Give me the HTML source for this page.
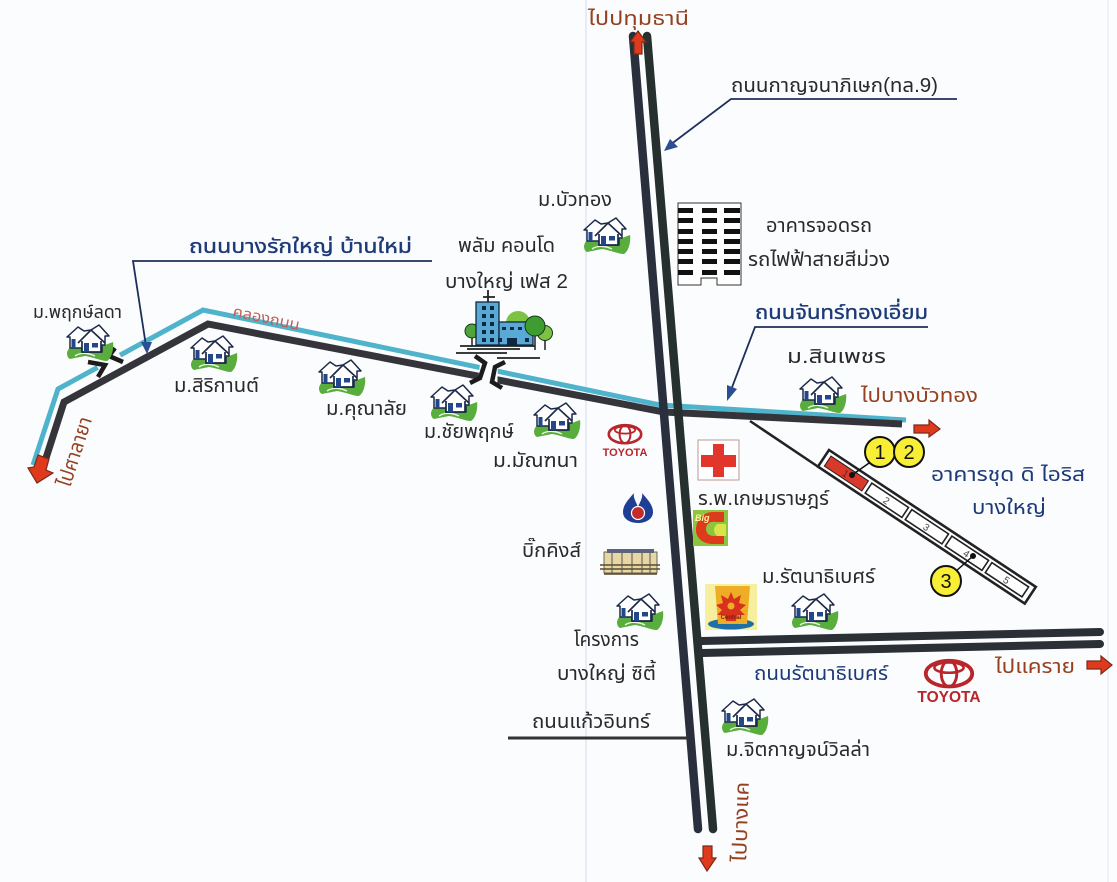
<!DOCTYPE html>
<html lang="th">
<head>
<meta charset="utf-8">
<title>แผนที่</title>
<style>
html,body{margin:0;padding:0;background:#fbfcfe;width:1117px;height:882px;overflow:hidden}
svg{display:block}
text{font-family:"Liberation Sans","Noto Sans Thai","Noto Sans CJK SC",sans-serif;font-size:20px;fill:#2a2a2a}
.blue{fill:#1d3a78}
.red{fill:#96401f}
.b{stroke:#1d3a78;stroke-width:.35px}
</style>
</head>
<body>
<svg width="1117" height="882" viewBox="0 0 1117 882" xmlns="http://www.w3.org/2000/svg">
<defs>
<symbol id="h" viewBox="0 0 46 38" overflow="visible">
  <path d="M0 28C1 23 4 21 8 21L38 20L46 17C47 23 45 33 40 36C34 36 26 32 18 31L3 34C1 33 0 31 0 28Z" fill="#58ad3c"/>
  <path d="M8 31C14 27 22 28 28 31" stroke="#eaf5e2" stroke-width="1.4" fill="none"/>
  <path d="M0 12L11 2L17 6L24 5L32 0L42 11L38 11L38 20L35 20L35 27L15 27L15 23L3 23L3 12Z" fill="#fff" stroke="#1c2a4a" stroke-width="1.5" stroke-linejoin="round"/>
  <path d="M11 18L24 5L38 18M15 16V27H34V16" fill="#fff" stroke="#1c2a4a" stroke-width="1.7"/>
  <rect x="4.5" y="14" width="4" height="9" fill="#23478c"/>
  <rect x="17" y="18" width="5" height="9" fill="#23478c"/>
  <rect x="25" y="18" width="6" height="4.5" fill="#23478c"/>
</symbol>
<symbol id="t" viewBox="0 0 60 50" overflow="visible">
  <ellipse cx="30" cy="17" rx="27" ry="15" fill="none" stroke="#b8252a" stroke-width="4.4"/>
  <ellipse cx="30" cy="17" rx="9" ry="15" fill="none" stroke="#b8252a" stroke-width="3.4"/>
  <ellipse cx="30" cy="10" rx="17" ry="6" fill="none" stroke="#b8252a" stroke-width="3"/>
</symbol>
</defs>

<rect width="1117" height="882" fill="#fbfcfe"/>
<rect x="585" y="0" width="2" height="882" fill="#e6ebf5"/>
<rect x="1107" y="0" width="2" height="882" fill="#eef1f7"/>

<!-- canal & local road -->
<polyline points="33,465 58,389 203,310 660,405 906,420" fill="none" stroke="#4fb3cb" stroke-width="5"/>
<polyline points="46,458 64,402 208,324 664,412 902,424" fill="none" stroke="#34343a" stroke-width="7"/>

<!-- gaps -->
<line x1="98" y1="368" x2="120" y2="355" stroke="#fbfcfe" stroke-width="7"/>
<polygon points="481,355 498,362 497,396 477,390" fill="#fbfcfe"/>

<!-- highway -->
<line x1="633" y1="36" x2="698" y2="829" stroke="#2a2f3e" stroke-width="8.5" stroke-linecap="round"/>
<line x1="647" y1="36" x2="713" y2="829" stroke="#26302f" stroke-width="8.5" stroke-linecap="round"/>

<!-- Rattanathibet -->
<line x1="702" y1="641" x2="1100" y2="632" stroke="#2a3036" stroke-width="8" stroke-linecap="round"/>
<line x1="702" y1="653" x2="1100" y2="644" stroke="#2a3036" stroke-width="8" stroke-linecap="round"/>

<!-- Kaew In road -->
<line x1="508" y1="738" x2="688" y2="738" stroke="#333" stroke-width="3"/>

<!-- Leaders -->
<g fill="none" stroke="#1f2f5c" stroke-width="1.8">
  <polyline points="432,261 133,261 146,346"/>
  <polyline points="957,99 731,99 670,145"/>
  <polyline points="928,327 755,327 731,390"/>
</g>
<g fill="#2a4f93">
  <polygon points="147,354 141,342 152,342"/>
  <polygon points="664,151 670,139 678,147"/>
  <polygon points="727,401 727,385 737,389"/>
</g>

<!-- Bridge at Palm Condo -->
<path d="M475 356L485 363L480 378L470 383" fill="none" stroke="#1c1c1c" stroke-width="4.5"/>
<path d="M505 362L495 367L492 382L502 388" fill="none" stroke="#1c1c1c" stroke-width="4.5"/>
<!-- Bridge at phruek lada -->
<path d="M115 348L109 356L123 362M88 362L105 365L98 377" fill="none" stroke="#1c1c1c" stroke-width="4.5"/>

<!-- Side soi and building -->
<line x1="750" y1="421" x2="820" y2="468" stroke="#222" stroke-width="2.5"/>
<g transform="translate(829 450) rotate(33.5)">
  <rect x="0" y="0" width="248" height="20" fill="#fff" stroke="#222" stroke-width="2.6"/>
  <rect x="5" y="4" width="45" height="12" fill="#d9392a" stroke="#222" stroke-width="1"/>
  <rect x="54" y="4" width="44" height="12" fill="#fff" stroke="#222" stroke-width="1.6"/>
  <rect x="102" y="4" width="44" height="12" fill="#fff" stroke="#222" stroke-width="1.6"/>
  <rect x="150" y="4" width="44" height="12" fill="#fff" stroke="#222" stroke-width="1.6"/>
  <rect x="198" y="4" width="44" height="12" fill="#fff" stroke="#222" stroke-width="1.6"/>
  <text x="24" y="14" style="font-size:10px;fill:#7a1c14">1</text>
  <text x="73" y="14" style="font-size:10px;fill:#444">2</text>
  <text x="121" y="14" style="font-size:10px;fill:#444">3</text>
  <text x="169" y="14" style="font-size:10px;fill:#444">4</text>
  <text x="217" y="14" style="font-size:10px;fill:#444">5</text>
</g>
<line x1="852" y1="475" x2="872" y2="461" stroke="#111" stroke-width="1.5"/>
<circle cx="852" cy="475" r="3" fill="#111"/>
<line x1="973" y1="556" x2="955" y2="572" stroke="#111" stroke-width="1.5"/>
<circle cx="973" cy="556" r="3" fill="#111"/>
<g fill="#f7ee35" stroke="#111" stroke-width="2">
  <circle cx="880" cy="452" r="15"/>
  <circle cx="909" cy="452" r="15"/>
  <circle cx="946" cy="581" r="15"/>
</g>
<text x="880" y="459" text-anchor="middle" style="font-size:20px;fill:#111">1</text>
<text x="909" y="459" text-anchor="middle" style="font-size:20px;fill:#111">2</text>
<text x="946" y="588" text-anchor="middle" style="font-size:20px;fill:#111">3</text>

<!-- Red arrows -->
<g fill="#e03a1c" stroke="#7a2a1a" stroke-width="1.2">
  <polygon points="638,31 646,42 642,42 642,54 634,54 634,42 630,42"/>
  <polygon points="914,425 929,425 929,420 940,429 929,437 929,433 914,433"/>
  <polygon points="1087,661 1101,661 1101,656 1112,665 1101,674 1101,669 1087,669"/>
  <polygon points="703,846 712,846 712,858 716,858 707,871 699,858 703,858"/>
  <polygon points="38,455 49,459 46,470 53,473 37,483 28,468 34,467"/>
</g>

<!-- Parking building -->
<path d="M678 203H741V285H717V278H701V285H678Z" fill="#fff" stroke="#333" stroke-width="1"/>
<g fill="#111">
  <rect x="678" y="208" width="15" height="5"/><rect x="702" y="208" width="15" height="5"/><rect x="724" y="208" width="16" height="5"/>
  <rect x="678" y="218" width="15" height="5"/><rect x="702" y="218" width="15" height="5"/><rect x="724" y="218" width="16" height="5"/>
  <rect x="678" y="229" width="15" height="5"/><rect x="702" y="229" width="15" height="5"/><rect x="724" y="229" width="16" height="5"/>
  <rect x="678" y="239" width="15" height="5"/><rect x="702" y="239" width="15" height="5"/><rect x="724" y="239" width="16" height="5"/>
  <rect x="678" y="249" width="15" height="5"/><rect x="702" y="249" width="15" height="5"/><rect x="724" y="249" width="16" height="5"/>
  <rect x="678" y="259" width="15" height="5"/><rect x="702" y="259" width="15" height="5"/><rect x="724" y="259" width="16" height="5"/>
  <rect x="678" y="270" width="15" height="5"/><rect x="702" y="270" width="15" height="5"/><rect x="724" y="270" width="16" height="5"/>
</g>

<!-- Condo icon -->
<g>
  <circle cx="518" cy="323" r="12" fill="#7cc243"/>
  <circle cx="545" cy="333" r="7.5" fill="#7cc243" stroke="#143a14"/>
  <path d="M472 338V346M545 340V350M535 336V350" stroke="#222" stroke-width="1.5"/>
  <circle cx="472" cy="331" r="7" fill="#4fa53a" stroke="#143a14"/>
  <rect x="476" y="302" width="23" height="43" fill="#58a9d6" stroke="#10283f" stroke-width="1.3"/>
  <rect x="499" y="322" width="34" height="23" fill="#58a9d6" stroke="#10283f" stroke-width="1.3"/>
  <circle cx="535" cy="326" r="10" fill="#3f9c30" stroke="#143a14"/>
  <g fill="#10283f">
    <rect x="482" y="306" width="4" height="4"/><rect x="490" y="306" width="4" height="4"/>
    <rect x="482" y="314" width="4" height="4"/><rect x="490" y="314" width="4" height="4"/>
    <rect x="482" y="322" width="4" height="4"/><rect x="490" y="322" width="4" height="4"/>
    <rect x="482" y="330" width="4" height="4"/><rect x="490" y="330" width="4" height="4"/>
    <rect x="482" y="338" width="4" height="4"/><rect x="490" y="338" width="4" height="4"/><rect x="498" y="338" width="4" height="4"/>
    <rect x="502" y="327" width="4" height="3"/><rect x="510" y="327" width="4" height="3"/><rect x="518" y="327" width="4" height="3"/>
    <rect x="507" y="338" width="10" height="7"/><rect x="525" y="338" width="4" height="4"/>
  </g>
  <path d="M488 302V290M483 297H495M460 346H535M467 349H520M456 353H507M497 358H540" stroke="#222" stroke-width="1.8" fill="none"/>
</g>

<!-- Houses -->
<use href="#h" x="584" y="218" width="46" height="38"/>
<use href="#h" x="67" y="325" width="46" height="38"/>
<use href="#h" x="191" y="336" width="46" height="38"/>
<use href="#h" x="319" y="360" width="46" height="38"/>
<use href="#h" x="431" y="385" width="46" height="38"/>
<use href="#h" x="534" y="403" width="46" height="38"/>
<use href="#h" x="800" y="377" width="46" height="38"/>
<use href="#h" x="617" y="594" width="46" height="38"/>
<use href="#h" x="792" y="594" width="46" height="38"/>
<use href="#h" x="722" y="699" width="46" height="38"/>

<!-- Toyota logos -->
<use href="#t" x="607" y="424" width="36" height="30"/>
<text x="625" y="456" text-anchor="middle" style="font-size:11px;font-weight:bold;fill:#b8252a">TOYOTA</text>
<use href="#t" x="923" y="659" width="52" height="43"/>
<text x="949" y="702" text-anchor="middle" style="font-size:15.5px;font-weight:bold;fill:#b8252a">TOYOTA</text>

<!-- Hospital -->
<rect x="698" y="440" width="41" height="40" fill="#fff" stroke="#b89a90" stroke-width="1"/>
<path d="M713 444H724V455H736V467H724V477H713V467H701V455H713Z" fill="#e2352c"/>

<!-- PTT -->
<path d="M638 507C635 500 633 497 634 493C628 500 623 505 623 512C623 519 630 523 638 523C646 523 653 519 653 512C653 505 648 500 642 493C643 497 641 500 638 507Z" fill="#1e3f94"/>
<circle cx="638" cy="513" r="6.5" fill="#c62a2a" stroke="#fff" stroke-width="1.2"/>

<!-- Big C -->
<rect x="693" y="510" width="35" height="36" fill="#8cc63f"/>
<path d="M724 512H713C703 512 696 520 696 530C696 539 704 544 713 544H724V536H714C709 536 706 533 706 529C706 524 710 521 716 522H724Z" fill="#dc3b1c"/>
<path d="M717 524H726V536H717C713 532 713 528 717 524Z" fill="#d9e34a"/>
<text x="695" y="521" style="font-size:9px;font-weight:bold;font-style:italic;fill:#fff3a0">Big</text>

<!-- Big Kings building -->
<rect x="604" y="552" width="53" height="21" fill="#e8d7a4" stroke="#444" stroke-width=".8"/>
<rect x="607" y="549" width="47" height="4" fill="#5c627c"/>
<path d="M600 565H660M600 569H660M604 574H657" stroke="#5a4a2c" stroke-width="1.4"/>
<path d="M612 553v20M622 553v20M632 553v20M642 553v20M650 553v20" stroke="#555" stroke-width="1"/>

<!-- Central -->
<rect x="705" y="584" width="52" height="46" fill="#f6ef9e"/>
<ellipse cx="731" cy="624" rx="23" ry="5.5" fill="#1d6fa6"/>
<path d="M715 586H750L747 624H718Z" fill="#efad25"/>
<path d="M731 592L734 599L741 595L739 603L746 605L740 610L745 615L737 615L736 621H726L725 615L717 615L722 610L716 605L723 603L721 595L728 599Z" fill="#d8321e"/>
<circle cx="731" cy="606" r="3.5" fill="#efad25"/>
<text x="731" y="619" text-anchor="middle" style="font-size:6px;font-weight:bold;fill:#7a1c14">Central</text>

<!-- Labels -->
<text x="588" y="25" class="red" textLength="101" lengthAdjust="spacingAndGlyphs">ไปปทุมธานี</text>
<text x="731" y="92" textLength="207" lengthAdjust="spacingAndGlyphs">ถนนกาญจนาภิเษก(ทล.9)</text>
<text x="538" y="206" textLength="74" lengthAdjust="spacingAndGlyphs">ม.บัวทอง</text>
<text x="766" y="232" textLength="106" lengthAdjust="spacingAndGlyphs">อาคารจอดรถ</text>
<text x="748" y="266" textLength="142" lengthAdjust="spacingAndGlyphs">รถไฟฟ้าสายสีม่วง</text>
<text x="458" y="252" textLength="97" lengthAdjust="spacingAndGlyphs">พลัม คอนโด</text>
<text x="445" y="288" textLength="123" lengthAdjust="spacingAndGlyphs">บางใหญ่ เฟส 2</text>
<text x="189" y="253" class="blue b" textLength="223" lengthAdjust="spacingAndGlyphs">ถนนบางรักใหญ่ บ้านใหม่</text>
<text x="232" y="316" transform="rotate(12 232 316)" textLength="68" lengthAdjust="spacingAndGlyphs" style="font-size:15px;fill:#c0605a">คลองถนน</text>
<text x="33" y="318" textLength="89" lengthAdjust="spacingAndGlyphs" style="font-size:18px">ม.พฤกษ์ลดา</text>
<text x="174" y="392" textLength="85" lengthAdjust="spacingAndGlyphs">ม.สิริกานต์</text>
<text x="326" y="415" textLength="81" lengthAdjust="spacingAndGlyphs">ม.คุณาลัย</text>
<text x="424" y="438" textLength="90" lengthAdjust="spacingAndGlyphs">ม.ชัยพฤกษ์</text>
<text x="493" y="467" textLength="85" lengthAdjust="spacingAndGlyphs">ม.มัณฑนา</text>
<text x="755" y="319" class="blue b" textLength="173" lengthAdjust="spacingAndGlyphs">ถนนจันทร์ทองเอี่ยม</text>
<text x="787" y="363" textLength="99" lengthAdjust="spacingAndGlyphs">ม.สินเพชร</text>
<text x="861" y="402" class="red" textLength="117" lengthAdjust="spacingAndGlyphs">ไปบางบัวทอง</text>
<text x="931" y="481" class="blue" textLength="154" lengthAdjust="spacingAndGlyphs">อาคารชุด ดิ ไอริส</text>
<text x="972" y="514" class="blue" textLength="74" lengthAdjust="spacingAndGlyphs">บางใหญ่</text>
<text x="698" y="505" textLength="131" lengthAdjust="spacingAndGlyphs">ร.พ.เกษมราษฎร์</text>
<text x="522" y="557" textLength="59" lengthAdjust="spacingAndGlyphs">บิ๊กคิงส์</text>
<text x="762" y="583" textLength="113" lengthAdjust="spacingAndGlyphs">ม.รัตนาธิเบศร์</text>
<text x="574" y="646" textLength="65" lengthAdjust="spacingAndGlyphs">โครงการ</text>
<text x="557" y="680" textLength="99" lengthAdjust="spacingAndGlyphs">บางใหญ่ ซิตี้</text>
<text x="754" y="680" class="blue" textLength="134" lengthAdjust="spacingAndGlyphs">ถนนรัตนาธิเบศร์</text>
<text x="995" y="673" class="red" textLength="80" lengthAdjust="spacingAndGlyphs">ไปแคราย</text>
<text x="532" y="728" textLength="118" lengthAdjust="spacingAndGlyphs">ถนนแก้วอินทร์</text>
<text x="726" y="756" textLength="144" lengthAdjust="spacingAndGlyphs">ม.จิตกาญจน์วิลล่า</text>
<text x="70" y="488" transform="rotate(-72 70 488)" class="red" textLength="72" lengthAdjust="spacingAndGlyphs">ไปศาลายา</text>
<text x="746" y="862" transform="rotate(-88 746 862)" class="red" textLength="80" lengthAdjust="spacingAndGlyphs">ไปบางแค</text>
</svg>
</body>
</html>
